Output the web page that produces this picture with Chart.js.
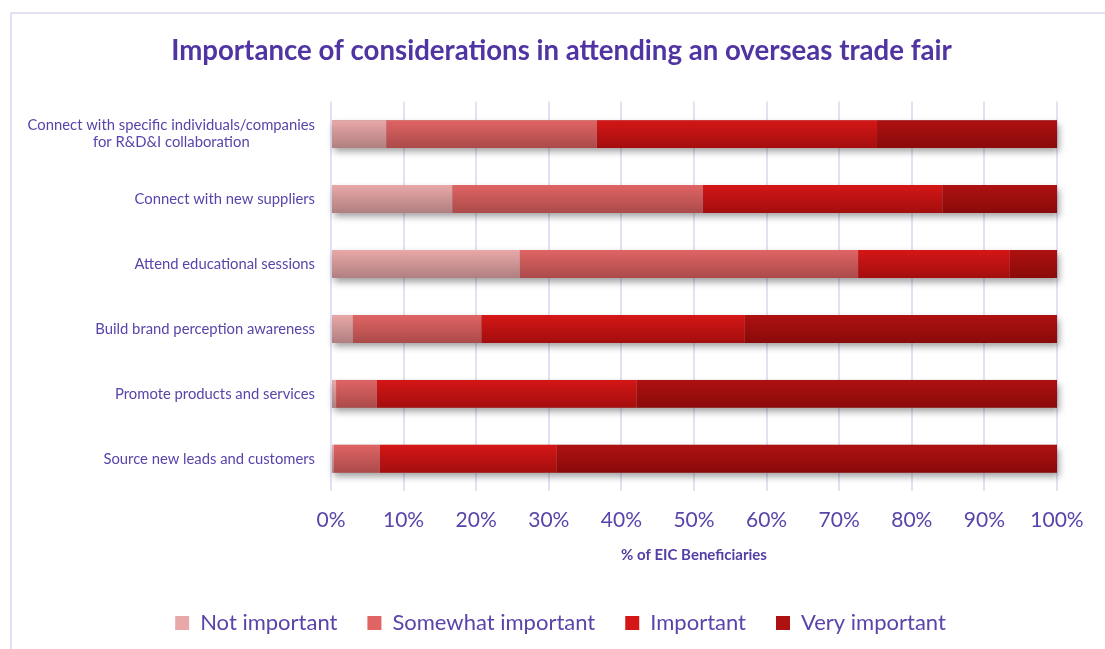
<!DOCTYPE html>
<html>
<head>
<meta charset="utf-8">
<script src="https://cdn.jsdelivr.net/npm/chart.js@4/dist/chart.umd.min.js"></script>
<style>
  html, body { margin: 0; padding: 0; background: #fff; }
  #wrap { position: relative; width: 1105px; height: 649px; overflow: hidden; }
  #frame { position: absolute; left: 10px; top: 12px; width: 1120px; height: 660px; border: 2px solid #e3e0f5; }
  #chart { position: absolute; left: 0; top: 0; }
</style>
</head>
<body>
<div id="wrap">
  <div id="frame"></div>
  <canvas id="chart" width="1105" height="649"></canvas>
</div>
<script>
const categories = [
    ['Connect with specific individuals/companies', 'for R&D&I collaboration'],
    'Connect with new suppliers',
    'Attend educational sessions',
    'Build brand perception awareness',
    'Promote products and services',
    'Source new leads and customers'
];
const notImportant = [7.6, 16.7, 26.0, 3.0, 0.7, 0.4];
const somewhatImportant = [29.0, 34.5, 46.6, 17.7, 5.6, 6.3];
const important = [38.6, 33.0, 20.9, 36.3, 35.8, 24.4];
const veryImportant = [24.8, 15.8, 6.5, 43.0, 57.9, 68.9];
const xTicks = [0, 10, 20, 30, 40, 50, 60, 70, 80, 90, 100];

const purple = '#5a44aa';
const BAR_PCT = 0.43;

// top / bottom colours of each bar's vertical gradient
const shades = {
    'Not important': ['#e9a8a8', '#b07f80'],
    'Somewhat important': ['#e06464', '#ab4a4a'],
    'Important': ['#d51616', '#a30e0e'],
    'Very important': ['#ae1111', '#8a0a0a']
};

function barFill(label) {
    return (ctx) => {
        const chart = ctx.chart;
        const y = chart.scales.y;
        const [top, bottom] = shades[label];
        if (!chart.chartArea || !y || ctx.dataIndex === undefined) return top;
        const band = y.height / categories.length;
        const c = y.getPixelForValue(ctx.dataIndex);
        const h = band * BAR_PCT;
        const g = chart.ctx.createLinearGradient(0, c - h / 2, 0, c + h / 2);
        g.addColorStop(0, top);
        g.addColorStop(1, bottom);
        return g;
    };
}

function makeSet(label, data) {
    return {
        label,
        data,
        backgroundColor: barFill(label),
        borderWidth: 0,
        barPercentage: BAR_PCT,
        categoryPercentage: 1
    };
}

// soft drop shadow under each stacked bar
const barShadow = {
    id: 'barShadow',
    beforeDatasetsDraw(chart) {
        const first = chart.getDatasetMeta(0).data;
        const last = chart.getDatasetMeta(chart.data.datasets.length - 1).data;
        const ctx = chart.ctx;
        ctx.save();
        ctx.shadowColor = 'rgba(0,0,0,0.38)';
        ctx.shadowBlur = 7;
        ctx.shadowOffsetX = 2;
        ctx.shadowOffsetY = 4;
        ctx.fillStyle = '#999';
        first.forEach((bar, i) => {
            const left = bar.base;
            const right = last[i].x;
            ctx.fillRect(left, bar.y - bar.height / 2, right - left, bar.height);
        });
        ctx.restore();
    }
};

// category labels: right-aligned, multi-line labels centred on their widest line
const categoryLabels = {
    id: 'categoryLabels',
    afterDraw(chart) {
        const ctx = chart.ctx;
        const y = chart.scales.y;
        const right = chart.chartArea.left - 16;
        const lineH = 17;
        ctx.save();
        ctx.font = '14.8px Lato';
        ctx.fillStyle = purple;
        ctx.textBaseline = 'middle';
        categories.forEach((lab, i) => {
            const lines = Array.isArray(lab) ? lab : [lab];
            const c = y.getPixelForValue(i);
            const widest = Math.max(...lines.map(l => ctx.measureText(l).width));
            const mid = right - widest / 2;
            ctx.textAlign = 'center';
            lines.forEach((l, k) => {
                ctx.fillText(l, mid, c + (k - (lines.length - 1) / 2) * lineH);
            });
        });
        ctx.restore();
    }
};

// title and legend sit centred on the whole frame, not on the padded box
const centreBlocks = {
    id: 'centreBlocks',
    afterLayout(chart) {
        if (chart.titleBlock) { chart.titleBlock.left += 28; chart.titleBlock.right += 28; }
        if (chart.legend) { chart.legend.left += 27; chart.legend.right += 27; }
    }
};

new Chart(document.getElementById('chart'), {
    type: 'bar',
    data: {
        labels: categories,
        datasets: [
            makeSet('Not important', notImportant),
            makeSet('Somewhat important', somewhatImportant),
            makeSet('Important', important),
            makeSet('Very important', veryImportant)
        ]
    },
    options: {
        indexAxis: 'y',
        responsive: false,
        animation: false,
        layout: { padding: { left: 10, right: 48, top: 0, bottom: 5 } },
        plugins: {
            tooltip: { enabled: false },
            title: {
                display: true,
                text: 'Importance of considerations in attending an overseas trade fair',
                color: '#4f34a2',
                font: { family: 'Lato', size: 27.6, weight: 'bold' },
                padding: { top: 34.5, bottom: 34 }
            },
            legend: {
                position: 'bottom',
                labels: {
                    color: purple,
                    font: { family: 'Lato', size: 22 },
                    boxWidth: 14,
                    boxHeight: 14,
                    padding: 30,
                    generateLabels(chart) {
                        return chart.data.datasets.map((ds, i) => ({
                            text: ds.label,
                            fillStyle: shades[ds.label][0],
                            strokeStyle: shades[ds.label][0],
                            lineWidth: 0,
                            fontColor: purple,
                            datasetIndex: i,
                            hidden: false
                        }));
                    }
                }
            }
        },
        scales: {
            x: {
                stacked: true,
                min: 0,
                max: 100,
                afterBuildTicks(scale) { scale.ticks = xTicks.map(v => ({ value: v })); },
                grid: { color: '#e4e1f5', lineWidth: 2, drawTicks: false },
                border: { display: false },
                ticks: {
                    color: purple,
                    font: { family: 'Lato', size: 21 },
                    padding: 16.5,
                    maxRotation: 0,
                    callback: (v) => v + '%'
                },
                title: {
                    display: true,
                    text: '% of EIC Beneficiaries',
                    color: '#553da6',
                    font: { family: 'Lato', size: 15, weight: 'bold' },
                    padding: { top: -3, bottom: 17.5 }
                }
            },
            y: {
                stacked: true,
                grid: { display: false },
                border: { display: false },
                ticks: { display: false },
                afterFit(scale) { scale.width = 321; }
            }
        }
    },
    plugins: [barShadow, categoryLabels, centreBlocks]
});
</script>
</body>
</html>
